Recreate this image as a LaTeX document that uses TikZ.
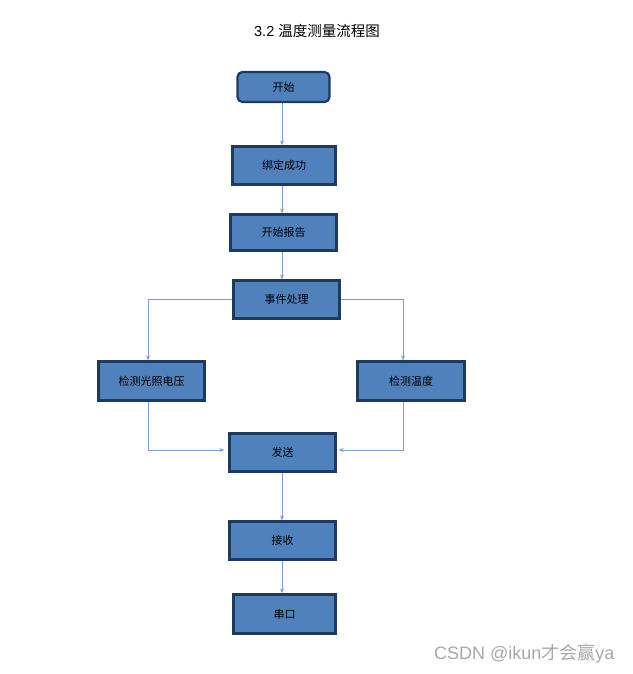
\documentclass[tikz,border=0pt]{standalone}
\usepackage{fontspec}
\setmainfont{Liberation Sans}
\newfontfamily\cjk{Noto Sans CJK SC}
\usetikzlibrary{arrows.meta}
\definecolor{boxfill}{HTML}{4F81BD}
\definecolor{boxline}{HTML}{1F3A5F}
\definecolor{conn}{HTML}{7F9FD2}
\definecolor{wm}{HTML}{A8A8A8}
\tikzset{
  flowbox/.style={draw=boxline, fill=boxfill, line width=2.2pt, inner sep=0pt,
    font=\cjk\fontsize{11}{13}\selectfont, text=black},
  conline/.style={draw=conn, line width=0.9pt, -{Stealth[length=5pt,width=4pt]}},
}
\begin{document}
\begin{tikzpicture}[x=1pt,y=-1pt]
\useasboundingbox (0,0) rectangle (632,674);
\node[font=\fontsize{14.5}{16}\selectfont] (title) at (317,31) {3.2 {\cjk 温度测量流程图}};
\node[flowbox, rounded corners=5pt, minimum width=92pt, minimum height=30pt] (start) at (283.5,87) {开始};
\node[flowbox, minimum width=103pt, minimum height=38pt] (bind) at (284,165.5) {绑定成功};
\node[flowbox, minimum width=106pt, minimum height=36pt] (report) at (283.5,232.5) {开始报告};
\node[flowbox, minimum width=106pt, minimum height=38pt] (event) at (286.5,299.5) {事件处理};
\node[flowbox, minimum width=106pt, minimum height=39pt] (light) at (151.5,381) {检测光照电压};
\node[flowbox, minimum width=107pt, minimum height=39pt] (temp) at (411,381) {检测温度};
\node[flowbox, minimum width=106pt, minimum height=38pt] (send) at (282.5,452.5) {发送};
\node[flowbox, minimum width=106pt, minimum height=38pt] (recv) at (282.5,540.5) {接收};
\node[flowbox, minimum width=102pt, minimum height=39pt] (port) at (284.5,614) {串口};
\coordinate (cx) at (282,0);
\draw[conline] (start.south -| cx) -- (bind.north -| cx);
\draw[conline] (bind.south -| cx) -- (report.north -| cx);
\draw[conline] (report.south -| cx) -- (event.north -| cx);
\coordinate (lx) at (148,0);
\coordinate (rx) at (403,0);
\draw[conline] (event.west) -- (event.west -| lx) -- (light.north -| lx);
\draw[conline] (event.east) -- (event.east -| rx) -- (temp.north -| rx);
\coordinate (by) at (0,450);
\draw[conline, shorten >=4pt] (light.south -| lx) -- (lx |- by) -- (send.west |- by);
\draw[conline, shorten >=2pt] (temp.south -| rx) -- (rx |- by) -- (send.east |- by);
\draw[conline] (send.south -| cx) -- (recv.north -| cx);
\draw[conline] (recv.south -| cx) -- (port.north -| cx);
\node[text=wm, font=\fontsize{18}{20}\selectfont, anchor=east] (wmark) at (618,654) {CSDN @ikun{\cjk 才会赢}ya};
\end{tikzpicture}
\end{document}
